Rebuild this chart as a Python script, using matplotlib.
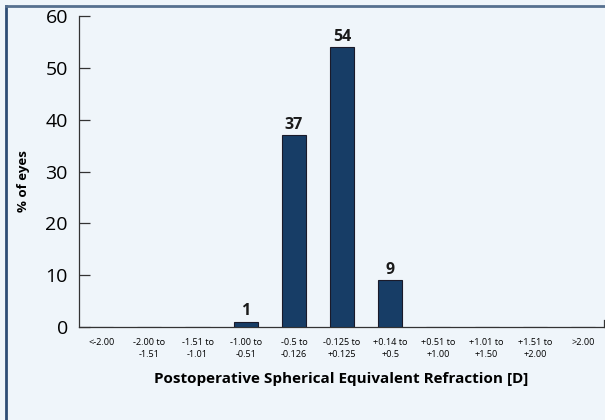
import matplotlib.pyplot as plt
from matplotlib.lines import Line2D

categories = ["<-2.00", "-2.00 to\n-1.51", "-1.51 to\n-1.01", "-1.00 to\n-0.51", "-0.5 to\n-0.126",
              "-0.125 to\n+0.125", "+0.14 to\n+0.5", "+0.51 to\n+1.00", "+1.01 to\n+1.50",
              "+1.51 to\n+2.00", ">2.00"]
pct_eyes = [0, 0, 0, 1, 37, 54, 9, 0, 0, 0, 0]
yticks = [0, 10, 20, 30, 40, 50, 60]

bg = "#eff5fa"
bar_color = "#173d66"
plt.rcParams['font.family'] = ['Open Sans', 'DejaVu Sans']

fig = plt.figure(figsize=(6.05, 4.2), dpi=100, facecolor=bg)
ax = fig.add_axes([0.1306, 0.2214, 0.868, 0.7405], facecolor=bg)

x = list(range(len(categories)))
ax.bar(x, pct_eyes, width=0.5, color=bar_color, edgecolor="#1a1a2a", linewidth=0.8, zorder=3)
for xi, v in zip(x, pct_eyes):
    if v > 0:
        ax.text(xi, v + 0.5, str(v), ha="center", va="bottom", fontsize=11.5, fontweight="bold",
                color="#1a1a1a")

ax.set_xlim(-0.46, 10.44)
ax.set_ylim(0, 60)
ax.set_yticks(yticks)
ax.set_yticklabels([str(t) for t in yticks], fontsize=14)
ax.set_xticks(x)
ax.set_xticklabels(categories, fontsize=6.6, linespacing=1.45)
ax.tick_params(axis="y", direction="in", length=8, width=0.9, color="#333333", pad=8)
ax.tick_params(axis="x", length=0, pad=8)

for s in ["top", "right"]:
    ax.spines[s].set_visible(False)
for s in ["left", "bottom"]:
    ax.spines[s].set_color("#333333")
    ax.spines[s].set_linewidth(0.9)
ax.plot([10.44, 10.44], [0, 1.3], color="#333333", lw=0.9, clip_on=False)

ax.set_ylabel("% of eyes", fontsize=9.5, fontweight="bold")
ax.yaxis.set_label_coords(-0.093, 0.47)
ax.set_xlabel("Postoperative Spherical Equivalent Refraction [D]", fontsize=11, fontweight="bold",
              labelpad=9)

# outer frame (left and top edges visible)
fig.add_artist(Line2D([0.0099, 0.0099], [0, 0.986], transform=fig.transFigure, color="#2e4d75", lw=2))
fig.add_artist(Line2D([0.0099, 1], [0.986, 0.986], transform=fig.transFigure, color="#56708f", lw=2))

fig.savefig("out.png", dpi=100, facecolor=bg)
